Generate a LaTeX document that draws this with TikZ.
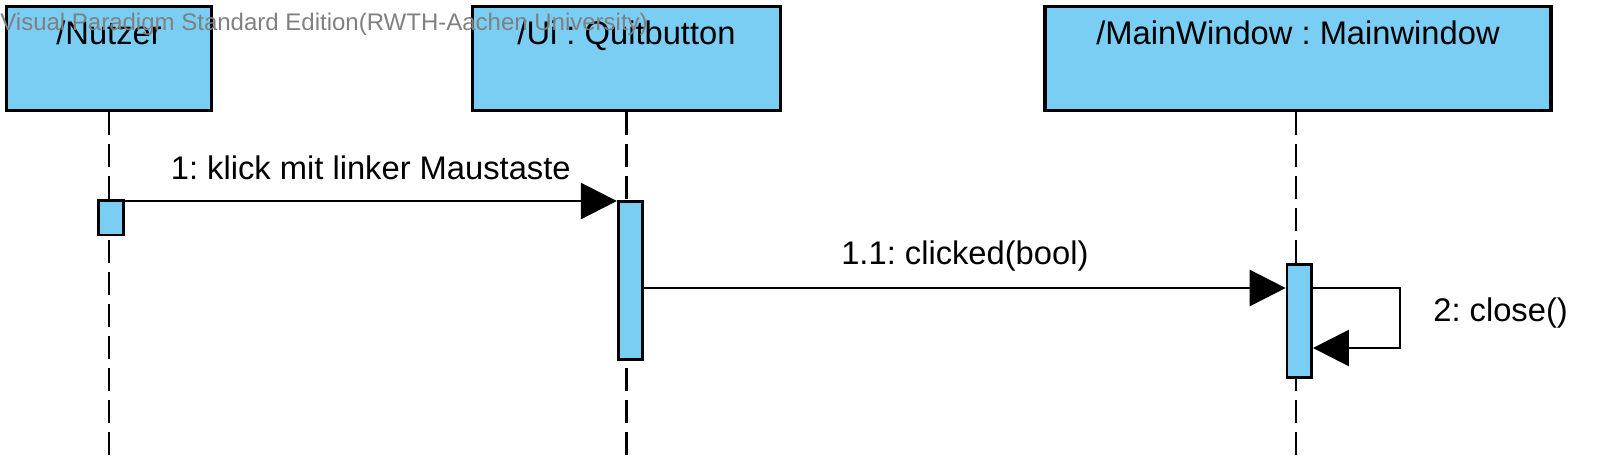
\documentclass[tikz,border=0pt]{standalone}
\usepackage{fontspec}
\setmainfont{Liberation Sans}
\usetikzlibrary{arrows.meta}
\definecolor{vpblue}{RGB}{122,206,244}
\definecolor{vpgray}{RGB}{128,128,128}
\frenchspacing
\begin{document}
\begin{tikzpicture}[x=0.5pt,y=-0.5pt,
  font=\fontsize{16.35}{20}\selectfont,
  lifebox/.style={draw,line width=1.6pt,fill=vpblue,inner sep=0pt,text height=19pt,text depth=33pt},
  actbar/.style={draw,line width=1.4pt,fill=vpblue,inner sep=0pt,minimum width=12.25pt},
  lifeline/.style={line width=1.4pt,dash pattern=on 11.5pt off 4.5pt},
  msg/.style={line width=1.4pt,-{Triangle[length=18pt,width=18pt]}},
  msglabel/.style={inner sep=0pt}]
\useasboundingbox (0,0) rectangle (1617,468);
% Lebenslinien-Koepfe
\node[lifebox,minimum width=102.5pt] (nutzer) at (109,58.5) {/Nutzer};
\node[lifebox,minimum width=154pt] (quit) at (626.5,58.5) {/Ui : Quitbutton};
\node[lifebox,minimum width=253pt] (main) at (1298,58.5) {/MainWindow : Mainwindow};
\draw[lifeline] (nutzer.south) -- ++(0,345);
\draw[lifeline] (quit.south) -- ++(0,345);
\draw[lifeline] ([xshift=-1pt]main.south) -- ++(0,345);
% Aktivierungen
\node[actbar,minimum height=17.25pt] (actN) at (111,217.75) {};
\node[actbar,minimum height=79pt] (actQ) at (630.5,280.3) {};
\node[actbar,minimum height=56.75pt] (actM) at (1299.3,321) {};
\coordinate (m1) at (0,201);
\coordinate (m11) at (0,288);
\coordinate (m2) at (0,348);
% Nachrichten
\draw[msg] (actN.east |- m1) -- node[msglabel,midway,yshift=16.5pt] (l1) {1: klick mit linker Maustaste} (actQ.west |- m1);
\draw[msg] (actQ.east |- m11) -- node[msglabel,midway,yshift=16pt] (l11) {1.1: clicked(bool)} (actM.west |- m11);
\draw[msg] (actM.east |- m11) -- ++(87,0) -- node[msglabel,midway,anchor=west,xshift=16pt,yshift=2.25pt] (l2) {2: close()} ++(0,60) -- (actM.east |- m2);
\node[anchor=west,inner sep=0pt,text=vpgray,font=\fontsize{12}{14}\selectfont] (wm) at (0,24) {Visual Paradigm Standard Edition(RWTH-Aachen University)};
\end{tikzpicture}
\end{document}
